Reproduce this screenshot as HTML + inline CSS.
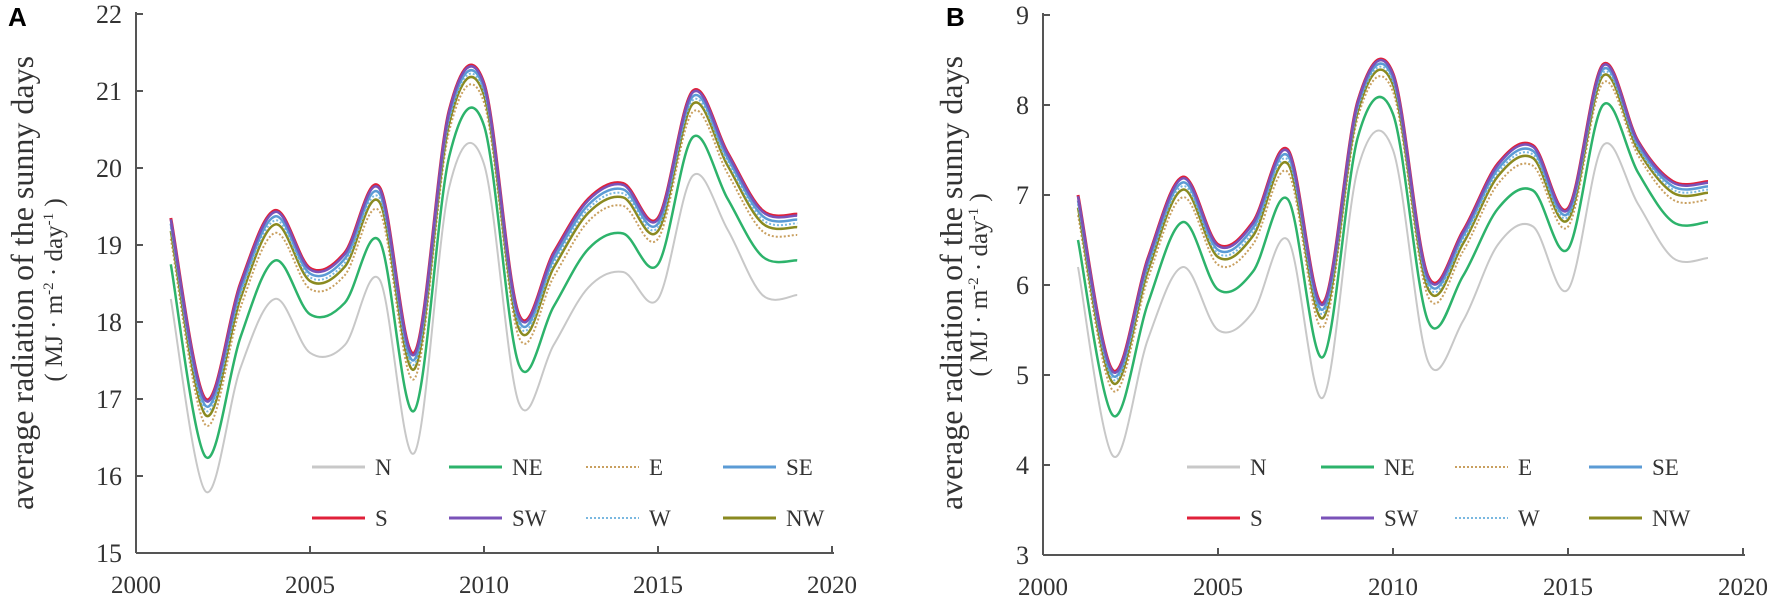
<!DOCTYPE html>
<html><head><meta charset="utf-8"><style>
html,body{margin:0;padding:0;background:#fff;}
svg{display:block;}
text{font-family:"Liberation Serif",serif;fill:#333;}
</style></head><body>
<svg id="s" width="1772" height="605" xmlns="http://www.w3.org/2000/svg">
<text x="8" y="26" style="font-family:'Liberation Sans',sans-serif;font-weight:bold;fill:#000" font-size="26">A</text>
<text x="946" y="26" style="font-family:'Liberation Sans',sans-serif;font-weight:bold;fill:#000" font-size="26">B</text>
<text transform="translate(33,283) rotate(-90)" text-anchor="middle" font-size="32">average radiation of the sunny days</text>
<text transform="translate(62,290) rotate(-90)" text-anchor="middle" font-size="25">( MJ · m<tspan font-size="15" dy="-9">-2</tspan><tspan dy="9"> · day</tspan><tspan font-size="15" dy="-9">-1</tspan><tspan dy="9"> )</tspan></text>
<text transform="translate(962,283) rotate(-90)" text-anchor="middle" font-size="32">average radiation of the sunny days</text>
<text transform="translate(987,285) rotate(-90)" text-anchor="middle" font-size="25">( MJ · m<tspan font-size="15" dy="-9">-2</tspan><tspan dy="9"> · day</tspan><tspan font-size="15" dy="-9">-1</tspan><tspan dy="9"> )</tspan></text>
<g id="g"></g>
</svg>
<script>
var NS="http://www.w3.org/2000/svg",g=document.getElementById('g');
function el(t,a,txt){var e=document.createElementNS(NS,t);for(var k in a)e.setAttribute(k,a[k]);if(txt!=null)e.textContent=txt;g.appendChild(e);return e;}
function path(pts){var d="M"+pts[0][0]+","+pts[0][1];for(var i=0;i<pts.length-1;i++){var p0=pts[Math.max(0,i-1)],p1=pts[i],p2=pts[i+1],p3=pts[Math.min(pts.length-1,i+2)];var t=0.5/3;d+=" C"+(p1[0]+(p2[0]-p0[0])*t)+","+(p1[1]+(p2[1]-p0[1])*t)+" "+(p2[0]-(p3[0]-p1[0])*t)+","+(p2[1]-(p3[1]-p1[1])*t)+" "+p2[0]+","+p2[1];}return d;}
var styles={N:["#c8c8c8",2,""],NE:["#2db36b",2.5,""],E:["#c9a060",2,"2,2"],SE:["#5b9bd5",2.5,""],S:["#e0203a",3,""],SW:["#7a52b8",2.5,""],W:["#7ab8e0",2,"2,2"],NW:["#8a8a20",2.5,""]};
var frac={E:0.55,NW:0.72,W:0.8,SE:0.88,SW:0.97,S:1};
function panel(o){
 var X=function(y){return o.x0+o.px*(y-2000)},Y=function(v){return o.yb-(v-o.vmin)*o.py};
 el('line',{x1:o.x0,y1:o.yb,x2:o.x0+o.px*20+2,y2:o.yb,stroke:'#555','stroke-width':2});
 el('line',{x1:o.x0,y1:o.yb,x2:o.x0,y2:Y(o.vmax)-2,stroke:'#555','stroke-width':2});
 for(var v=o.vmin;v<=o.vmax;v++){if(v>o.vmin)el('line',{x1:o.x0,y1:Y(v),x2:o.x0+7,y2:Y(v),stroke:'#555','stroke-width':2});
  el('text',{x:o.x0-14,y:Y(v)+9,'text-anchor':'end','font-size':26},v);}
 for(var y=2000;y<=2020;y+=5){if(y>2000)el('line',{x1:X(y),y1:o.yb,x2:X(y),y2:o.yb-7,stroke:'#555','stroke-width':2});
  el('text',{x:X(y),y:o.yb+40,'text-anchor':'middle','font-size':25},y);}
 var ser={N:o.N,NE:o.NE,S:o.S};
 for(var k in frac){if(k=='S')continue;ser[k]=o.NE.map(function(v,i){return v+frac[k]*(o.S[i]-v)});}
 ["N","NE","E","NW","W","SE","S","SW"].forEach(function(k){var st=styles[k];
  var pts=ser[k].map(function(v,i){return [X(2001+i).toFixed(1),Y(v).toFixed(1)].map(Number)});
  el('path',{d:path(pts),fill:'none',stroke:st[0],'stroke-width':st[1],'stroke-dasharray':st[2]});});
 var names=[["N","NE","E","SE"],["S","SW","W","NW"]];
 for(var r=0;r<2;r++)for(var c=0;c<4;c++){var k=names[r][c],st=styles[k],lx=o.lx+c*o.ls,ly=o.ly+r*51;
  el('line',{x1:lx,y1:ly,x2:lx+53,y2:ly,stroke:st[0],'stroke-width':st[2]?2:3,'stroke-dasharray':st[2]});
  el('text',{x:lx+63,y:ly+8,'font-size':23},k);}
}
panel({x0:136,px:34.8,yb:553,vmin:15,vmax:22,py:77,lx:312,ly:467,ls:137,
 S:[19.35,17.0,18.5,19.45,18.7,18.9,19.75,17.6,20.75,21.1,18.1,18.9,19.6,19.8,19.35,21.0,20.2,19.45,19.4],
 NE:[18.75,16.25,17.8,18.8,18.1,18.25,19.05,16.85,20.15,20.55,17.45,18.2,18.95,19.15,18.75,20.4,19.6,18.85,18.8],
 N:[18.3,15.8,17.4,18.3,17.6,17.7,18.55,16.3,19.75,20.05,16.95,17.7,18.45,18.65,18.3,19.9,19.2,18.35,18.35]});
panel({x0:1043,px:35,yb:555,vmin:3,vmax:9,py:90,lx:1187,ly:467,ls:134,
 S:[7.0,5.05,6.3,7.2,6.45,6.7,7.5,5.8,8.05,8.35,6.1,6.6,7.35,7.55,6.85,8.45,7.6,7.15,7.15],
 NE:[6.5,4.55,5.8,6.7,5.95,6.15,6.95,5.2,7.65,7.9,5.6,6.1,6.85,7.05,6.4,8.0,7.25,6.7,6.7],
 N:[6.2,4.1,5.4,6.2,5.5,5.7,6.5,4.75,7.3,7.5,5.15,5.6,6.45,6.65,5.95,7.55,6.9,6.3,6.3]});
</script>
</body></html>
